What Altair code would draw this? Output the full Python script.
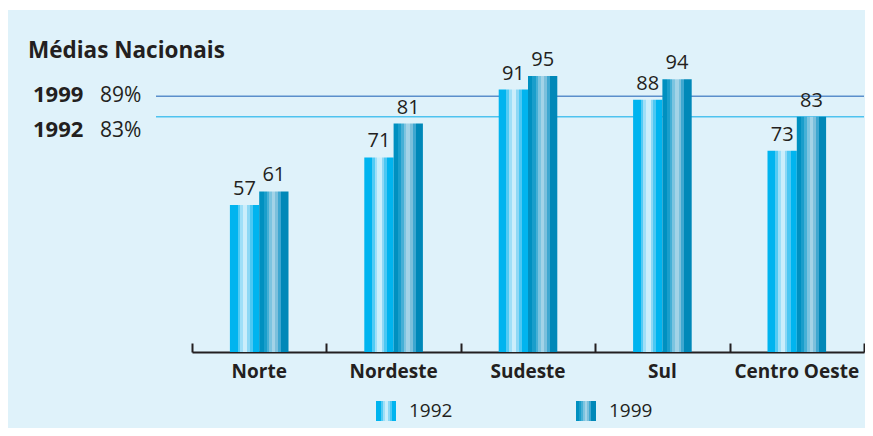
import altair as alt
import pandas as pd

# ---- data ----
regions = ["Norte", "Nordeste", "Sudeste", "Sul", "Centro Oeste"]
years = ["1992", "1999"]
values_1992 = [57, 71, 91, 88, 73]
values_1999 = [61, 81, 95, 94, 83]
national_years = ["1999", "1992"]
national_avgs = [89, 83]

df = pd.DataFrame({
    "region": regions * 2,
    "year": [years[0]] * len(regions) + [years[1]] * len(regions),
    "value": values_1992 + values_1999,
})
nat = pd.DataFrame({"year": national_years, "avg": national_avgs})
nat["label"] = nat["avg"].astype(str) + "%"

# ---- styles ----
FONT = "Open Sans"
TXT = "#231F20"
BG = "#DFF2FA"
W, H = 857, 418

seg_1992 = [(0, .26, "#00B4EF"), (.26, .35, "#52CBF4"), (.35, .45, "#9EDFF8"),
            (.45, .60, "#CBEEFB"), (.60, .68, "#8DD8F5"), (.68, .79, "#4CC8F3"),
            (.79, 1, "#00B4EF")]
seg_1999 = [(0, .15, "#0090C0"), (.15, .26, "#1A9ECB"), (.26, .34, "#45B0D6"),
            (.34, .44, "#7CC4E0"), (.44, .55, "#A3D3E7"), (.55, .65, "#7CC0DC"),
            (.65, .75, "#3EA7D0"), (.75, 1, "#0088B8")]


def grad(segs):
    stops = []
    for a, b, c in segs:
        stops.append("{offset:%g,color:'%s'}" % (a, c))
        stops.append("{offset:%g,color:'%s'}" % (b, c))
    return "{gradient:'linear',x1:0,y1:0,x2:1,y2:0,stops:[" + ",".join(stops) + "]}"


BASE = 13.7
xscale = alt.Scale(domain=regions, range=[184, 856], paddingInner=0, paddingOuter=0)
yscale = alt.Scale(domain=[BASE, 100], range=[342, 49], zero=False, nice=False)
xoff_scale = alt.Scale(domain=years, range=[37.9, 96.5], paddingInner=0, paddingOuter=0)
cscale = alt.Scale(domain=years, range=[{"expr": grad(seg_1992)}, {"expr": grad(seg_1999)}])

bottom_axis = alt.Axis(orient="bottom", offset=342 - H, domain=False, ticks=False,
                       labelPadding=10, labelFont=FONT, labelFontSize=19,
                       labelFontWeight="bold", labelColor=TXT, labelAngle=0,
                       title=None, grid=False)
top_axis = alt.Axis(orient="top", offset=-342, labels=False, domain=True, ticks=True,
                    tickBand="extent", tickSize=9, tickWidth=2, domainWidth=2,
                    domainColor=TXT, tickColor=TXT, title=None, grid=False)

bars = alt.Chart(df).mark_bar().encode(
    x=alt.X("region:N", sort=regions, scale=xscale, axis=bottom_axis),
    xOffset=alt.XOffset("year:N", sort=years, scale=xoff_scale),
    y=alt.Y("value:Q", scale=yscale, axis=None),
    y2=alt.datum(BASE),
    color=alt.Color("year:N", scale=cscale, legend=alt.Legend(
        orient="none", legendX=368, legendY=391, direction="horizontal", title=None,
        symbolType="square", symbolSize=400, symbolStrokeWidth=0,
        labelFont=FONT, labelFontSize=19, labelColor=TXT, labelOffset=13,
        columnPadding=123, padding=0)),
)

labels = alt.Chart(df).mark_text(baseline="alphabetic", dy=-10, font=FONT,
                                 fontSize=20, color=TXT).encode(
    x=alt.X("region:N", sort=regions, scale=xscale, axis=top_axis),
    xOffset=alt.XOffset("year:N", sort=years, scale=xoff_scale),
    y=alt.Y("value:Q", scale=yscale, axis=None),
    text="value:Q",
)

rules = alt.Chart(nat).mark_rule(strokeWidth=1.5).encode(
    y=alt.Y("avg:Q", scale=yscale, axis=None),
    x=alt.value(148),
    x2=alt.value(856),
    stroke=alt.Stroke("year:N", scale=alt.Scale(domain=national_years,
                                                range=["#5B8FCB", "#4EC3EF"]),
                      legend=None),
)

title = alt.Chart(nat).transform_filter(alt.datum.year == national_years[0]).mark_text(
    align="left", baseline="alphabetic", font=FONT, fontSize=22.5, fontWeight="bold",
    color=TXT, text="Médias Nacionais").encode(x=alt.value(20), y=alt.value(48))

left = []
for i, yr in enumerate(national_years):
    base = alt.Chart(nat).transform_filter(alt.datum.year == yr)
    left.append(base.mark_text(align="left", baseline="alphabetic", font=FONT,
                               fontSize=22, fontWeight="bold", color=TXT).encode(
        x=alt.value(25), y=alt.value(92 + 34.5 * i), text="year:N"))
    left.append(base.mark_text(align="left", baseline="alphabetic", font=FONT,
                               fontSize=21, color=TXT).encode(
        x=alt.value(92), y=alt.value(92 + 34.5 * i), text="label:N"))

chart = alt.layer(rules, bars, labels, title, *left).resolve_axis(
    x="independent"
).properties(
    width=W, height=H,
    autosize=alt.AutoSizeParams(type="none"),
    padding={"left": 0, "top": 2, "right": 0, "bottom": 0},
    background="white",
).configure_view(fill=BG, stroke=None)

chart.save("out.html", embed_options={"renderer": "svg", "actions": False})
